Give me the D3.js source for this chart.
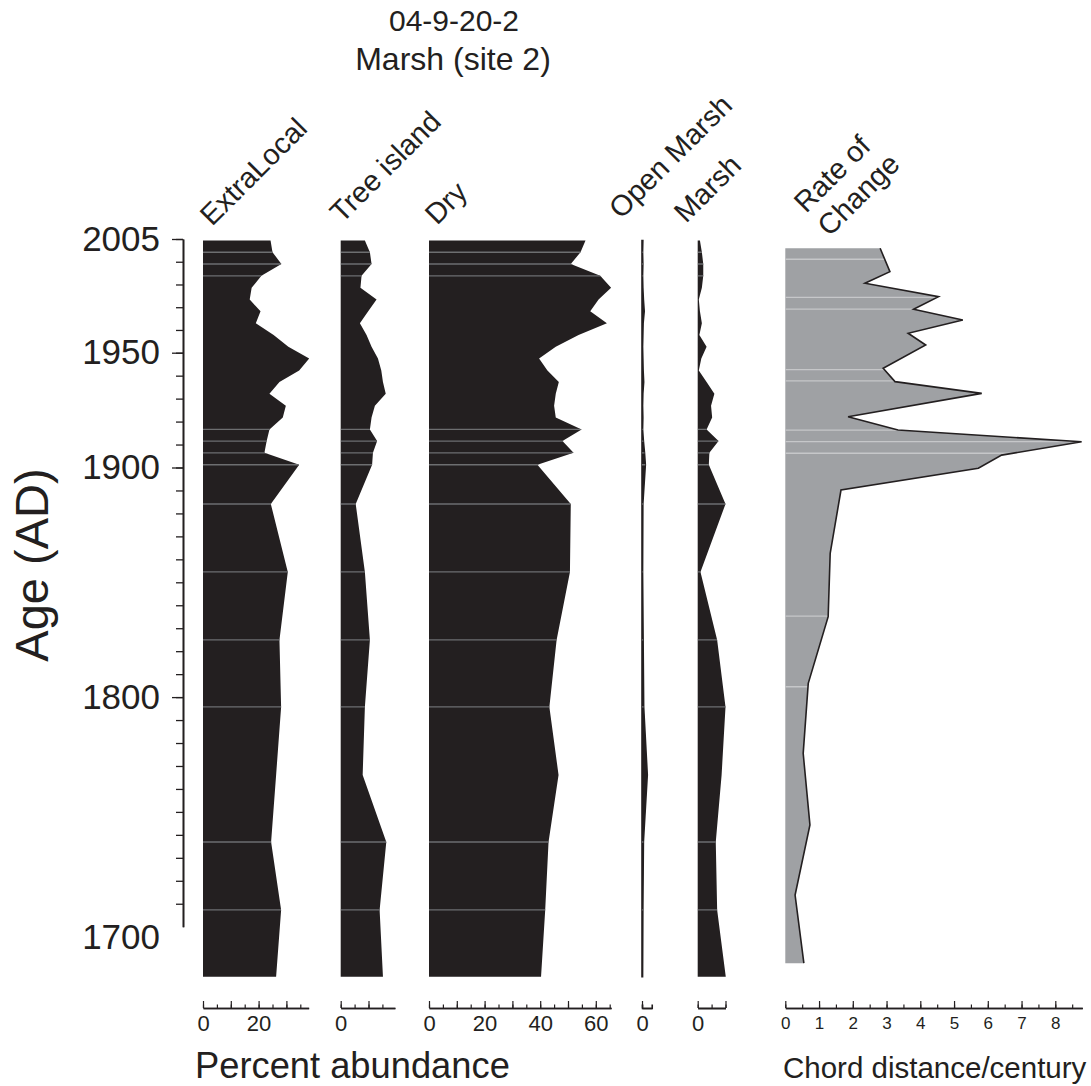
<!DOCTYPE html>
<html>
<head>
<meta charset="utf-8">
<script src="https://cdn.jsdelivr.net/npm/d3@7"></script>
<style>
    body { margin: 0; background: #fff; }
    svg { display: block; font-family: "Liberation Sans", Arial, sans-serif; }
</style>
</head>
<body>
<svg id="chart" width="1091" height="1086"></svg>
<script>
// Sample ages (AD) of the pollen levels
const sampleAges = [2004.3, 1998.6, 1992.9, 1987.2, 1981.4, 1975.7, 1970.0, 1964.3, 1958.6, 1952.9,
    1947.5, 1942.3, 1937.2, 1932.1, 1926.9, 1921.8, 1916.6, 1911.5, 1906.4, 1901.2,
    1884.1, 1854.5, 1824.9, 1795.7, 1766.1, 1736.9, 1707.3, 1678.2];

// Percent abundance per group
const extraLocal = [24.3, 25.0, 28.2, 21.0, 17.5, 16.8, 20.7, 19.0, 25.4, 30.7,
    38.2, 34.6, 27.5, 23.9, 29.8, 28.7, 23.9, 22.9, 22.1, 34.6,
    24.4, 30.5, 27.5, 28.1, 26.3, 24.5, 28.1, 26.3];
const treeIsland = [8.7, 10.5, 11.1, 7.5, 7.1, 12.9, 9.9, 6.9, 9.3, 11.1,
    13.4, 14.6, 15.2, 16.2, 12.3, 11.1, 10.5, 13.1, 11.6, 11.3,
    5.4, 8.7, 10.5, 8.7, 7.9, 16.4, 14.0, 15.2];
const dry = [56.3, 54.5, 51.0, 61.6, 65.5, 61.0, 58.0, 64.0, 53.8, 45.6,
    39.6, 42.6, 46.7, 45.6, 45.0, 45.6, 54.9, 48.0, 52.0, 39.0,
    51.0, 50.7, 45.9, 43.3, 46.6, 43.0, 41.8, 40.3];
const openMarsh = [0.3, 0.2, 0.3, 0.2, 0.3, 0.5, 0.8, 0.4, 0.3, 0.2,
    0.3, 0.4, 0.6, 0.3, 0.2, 0.3, 0.2, 0.5, 0.9, 1.2,
    0.3, 0.2, 0.4, 0.6, 1.9, 0.5, 0.3, 0.2];
const marsh = [0.8, 1.5, 2.0, 2.0, 1.5, 0.4, 0.8, 1.5, 0.6, 3.2,
    1.3, 0.4, 3.2, 6.0, 4.8, 5.2, 3.2, 7.5, 4.2, 4.0,
    10.0, 1.0, 7.0, 10.0, 8.6, 6.5, 7.0, 10.1];

// Rate of change (chord distance / century)
const rocAges = [2000.5, 1989.2, 1983.6, 1977.1, 1971.0, 1965.8, 1959.4, 1953.7, 1943.2, 1937.4,
    1932.3, 1922.1, 1916.3, 1911.2, 1905.4, 1899.7, 1890.2, 1862.6, 1835.0, 1806.0,
    1775.5, 1744.3, 1713.8, 1684.1];
const rocValues = [2.81, 3.10, 2.36, 4.54, 3.80, 5.26, 3.64, 4.16, 2.90, 3.25,
    5.82, 1.86, 3.34, 8.78, 6.41, 5.72, 1.65, 1.33, 1.27, 0.68,
    0.53, 0.73, 0.29, 0.55];

// Thin light seams visible across the filled profiles
const pollenSeams = [1998.6, 1992.9, 1987.2, 1916.6, 1911.5, 1906.4, 1901.2, 1884.1,
    1854.5, 1824.9, 1795.7, 1736.9, 1707.3];
const rocSeams = [1995.2, 1976.8, 1971.1, 1942.6, 1937.7, 1916.3, 1911.3, 1906.2, 1835.3, 1804.5];

// Axis labels
const panelNames = ['ExtraLocal', 'Tree island', 'Dry', 'Open Marsh', 'Marsh'];
const axisMax = [38, 19.5, 65.5, 3.5, 10];
const ageLabels = [2005, 1950, 1900, 1800, 1700];
const rocMax = 8.8;

const ink = '#231f20';
const svg = d3.select('#chart');

// Age axis (age-depth model gives a steeper top section)
const y = d3.scaleLinear().domain([2005, 1950, 1700]).range([239, 352.7, 926.7]);
const pxPerPct = 2.78;
const axisY = 1008;

const minorAges = d3.range(2005, 1950, -11).concat(d3.range(1950, 1700, -10));
const yMinor = svg.append('g').attr('transform', 'translate(183,0)')
    .call(d3.axisLeft(y).tickValues(minorAges).tickSize(7).tickSizeOuter(0).tickFormat(''));
const yMajor = svg.append('g').attr('transform', 'translate(183,0)')
    .call(d3.axisLeft(y).tickValues(ageLabels).tickSize(11).tickSizeOuter(0).tickPadding(12)
        .tickFormat(d3.format('d')));
yMajor.selectAll('text').attr('font-size', 35).attr('fill', ink);
yMajor.selectAll('.tick').filter(d => d === 1700).select('line').remove();
yMajor.selectAll('.tick').filter(d => d === 1700).select('text').attr('dy', '0.62em');
[yMinor, yMajor].forEach(g => {
    g.attr('font-family', null);
    g.selectAll('line').attr('stroke', ink).attr('stroke-width', 1.3);
    g.select('.domain').attr('stroke', ink).attr('stroke-width', 1.6);
});

svg.append('text')
    .attr('transform', 'translate(48,565) rotate(-90)')
    .attr('text-anchor', 'middle').attr('font-size', 47).attr('fill', ink)
    .text('Age (AD)');

// Title
svg.append('text').attr('x', 454).attr('y', 31).attr('text-anchor', 'middle')
    .attr('font-size', 30).attr('fill', ink).text('04-9-20-2');
svg.append('text').attr('x', 453).attr('y', 70).attr('text-anchor', 'middle')
    .attr('font-size', 32).attr('fill', ink).text('Marsh (site 2)');

// Pollen panels
const layout = [
    { left: 203, lx: 212, ly: 227 },
    { left: 340.7, lx: 342, ly: 224 },
    { left: 429, lx: 437, ly: 226 },
    { left: 642, lx: 621, ly: 220 },
    { left: 697.7, lx: 686, ly: 224 }
];
const series = [extraLocal, treeIsland, dry, openMarsh, marsh];

series.forEach((values, i) => {
    const p = layout[i];
    const x = d3.scaleLinear().domain([0, axisMax[i]]).range([p.left, p.left + axisMax[i] * pxPerPct]);
    const data = sampleAges.map((age, j) => ({ age, v: values[j] }));
    const area = d3.area().x0(x(0)).x1(d => x(d.v)).y(d => y(d.age));

    svg.append('clipPath').attr('id', 'clip' + i).append('path').attr('d', area(data));
    svg.append('path').attr('d', area(data)).attr('fill', ink)
        .attr('stroke', i === 3 ? ink : 'none').attr('stroke-width', 1.6);
    svg.append('g').attr('clip-path', `url(#clip${i})`)
        .selectAll('line').data(pollenSeams).join('line')
        .attr('x1', x(0)).attr('x2', x(axisMax[i]) + 60)
        .attr('y1', d => y(d)).attr('y2', d => y(d))
        .attr('stroke', '#6d6e70').attr('stroke-width', 1.3);

    // bottom axis: short ticks every 5 %, tall every 10 %, labels every 20 %
    const minor = svg.append('g').attr('transform', `translate(0,${axisY})`)
        .call(d3.axisBottom(x).tickValues(d3.range(0, axisMax[i] + 0.01, 5))
            .tickSizeInner(-3.5).tickSizeOuter(i === 3 ? -3.5 : 0).tickFormat(''));
    const major = svg.append('g').attr('transform', `translate(0,${axisY})`)
        .call(d3.axisBottom(x).tickValues(d3.range(0, axisMax[i] + 0.01, 10))
            .tickSizeInner(-7).tickSizeOuter(0).tickPadding(7)
            .tickFormat(d => d % 20 === 0 ? d : ''));
    major.selectAll('text').attr('font-size', 22).attr('fill', ink);
    [minor, major].forEach(g => {
        g.attr('font-family', null);
        g.selectAll('line').attr('stroke', ink).attr('stroke-width', 1.2);
        g.select('.domain').attr('stroke', ink).attr('stroke-width', 1.6);
    });

    svg.append('text')
        .attr('transform', `translate(${p.lx},${p.ly}) rotate(-45)`)
        .attr('font-size', 29).attr('fill', ink)
        .text(panelNames[i]);
});

svg.append('text').attr('x', 195).attr('y', 1078)
    .attr('font-size', 36.3).attr('fill', ink).text('Percent abundance');

// Rate of change panel
const xr = d3.scaleLinear().domain([0, rocMax]).range([785.3, 785.3 + rocMax * 33.75]);
const rocData = rocAges.map((age, j) => ({ age, v: rocValues[j] }));
const rocArea = d3.area().x0(xr(0)).x1(d => xr(d.v)).y(d => y(d.age));
const rocLine = d3.line().x(d => xr(d.v)).y(d => y(d.age));

svg.append('clipPath').attr('id', 'clipRoc').append('path').attr('d', rocArea(rocData));
svg.append('path').attr('d', rocArea(rocData)).attr('fill', '#9fa1a4');
svg.append('g').attr('clip-path', 'url(#clipRoc)')
    .selectAll('line').data(rocSeams).join('line')
    .attr('x1', xr(0)).attr('x2', xr(rocMax))
    .attr('y1', d => y(d)).attr('y2', d => y(d))
    .attr('stroke', '#c6c7c9').attr('stroke-width', 1.3);
svg.append('path').attr('d', rocLine(rocData))
    .attr('fill', 'none').attr('stroke', ink).attr('stroke-width', 1.6);

const rMinor = svg.append('g').attr('transform', `translate(0,${axisY})`)
    .call(d3.axisBottom(xr).tickValues(d3.range(0, rocMax, 0.5))
        .tickSizeInner(-3.5).tickSizeOuter(0).tickFormat(''));
const rMajor = svg.append('g').attr('transform', `translate(0,${axisY})`)
    .call(d3.axisBottom(xr).tickValues(d3.range(0, rocMax, 1))
        .tickSizeInner(-7).tickSizeOuter(0).tickPadding(9).tickFormat(d3.format('d')));
rMajor.selectAll('text').attr('font-size', 17).attr('fill', ink);
[rMinor, rMajor].forEach(g => {
    g.attr('font-family', null);
    g.selectAll('line').attr('stroke', ink).attr('stroke-width', 1.2);
    g.select('.domain').attr('stroke', ink).attr('stroke-width', 1.6);
});

svg.append('text').attr('transform', 'translate(806,214) rotate(-45)')
    .attr('font-size', 29).attr('fill', ink)
    .selectAll('tspan').data(['Rate of', 'Change']).join('tspan')
    .attr('x', 0).attr('dy', (d, i) => i === 0 ? 0 : '1.15em').text(d => d);

svg.append('text').attr('x', 783).attr('y', 1078)
    .attr('font-size', 29.5).attr('fill', ink).text('Chord distance/century');
</script>
</body>
</html>
